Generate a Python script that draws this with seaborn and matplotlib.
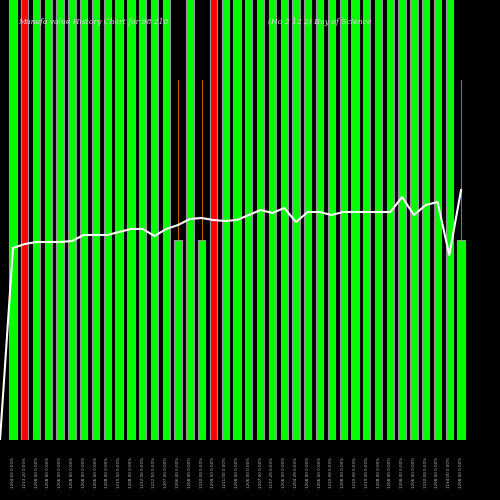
import matplotlib
matplotlib.use("Agg")
import matplotlib.pyplot as plt
import seaborn as sns
import numpy as np

heights = [500]*39
for i in (14, 16, 38):
    heights[i] = 200
colors = ['#00ff00']*39
colors[1] = '#ff0000'
colors[17] = '#ff0000'
wick_idx = [14, 16, 38]
wick_top = [360, 360, 360]
line_y = [0, 192, 196, 198, 198, 198, 199, 205, 205, 205, 208, 211, 211, 204, 211, 215, 221, 222,
          220, 219, 220, 225, 230, 227, 232, 218, 228, 228, 225, 228,
          228, 228, 228, 228, 243, 225, 235, 238, 185, 250]
line_x = [-1.1] + list(range(39))
prices = [1204.6, 1213.2, 1208.0, 1208.0, 1206.0, 1208.0, 1208.0, 1206.0, 1208.0, 1210.5, 1208.0,
          1212.0, 1212.5, 1207.0, 1206.0, 1208.0, 1210.0, 1209.5, 1211.0, 1208.0, 1206.0,
          1207.0, 1197.2, 1206.0, 1204.2, 1208.0, 1206.0, 1210.0, 1208.0, 1210.0, 1210.0,
          1208.0, 1208.0, 1208.0, 1206.0, 1210.0, 1208.0, 1194.0, 1208.0]
labels = [f"{p:.2f} 0.00%" for p in prices]

fig = plt.figure(figsize=(5, 5), dpi=100, facecolor='black')
ax = fig.add_axes([0, 0.12, 1, 0.88])
ax.set_facecolor('black')
x = np.arange(39)
for i, t in zip(wick_idx, wick_top):
    ax.plot([i, i], [heights[i], t], color='#cc6600', lw=0.7, zorder=0)
sns.barplot(x=x, y=heights, hue=x, palette=colors, native_scale=True, legend=False,
            width=0.62, edgecolor='#999999', linewidth=0.8, saturation=1, ax=ax)
sns.lineplot(x=line_x, y=line_y, color='white', lw=1.5, ax=ax)
ax.set_xlim(-1.1, 41.3)
ax.set_ylim(0, 440)
ax.set_xticks(x)
ax.set_xticklabels(labels, rotation=90, fontsize=3, color='#bbbbbb')
ax.tick_params(length=0, pad=12)
ax.set_yticks([])
for s in ax.spines.values():
    s.set_visible(False)
fig.text(0.036, 0.953, "Munafa value History Chart for 98 218", color='#dddddd', fontsize=5.5,
         style='italic', family='DejaVu Serif')
fig.text(0.535, 0.953, "(Ho 2 12 2) Buy of Science", color='#dddddd', fontsize=5.5,
         style='italic', family='DejaVu Serif')
fig.savefig("out.png", facecolor='black')
